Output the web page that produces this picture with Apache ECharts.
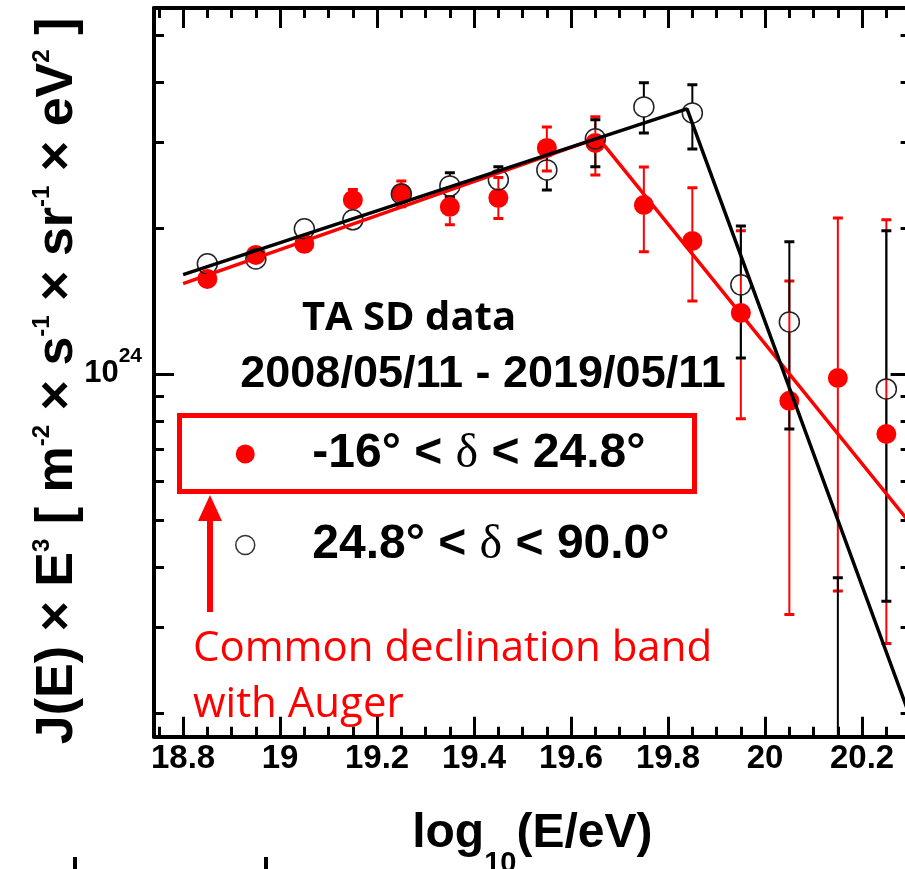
<!DOCTYPE html>
<html>
<head>
<meta charset="utf-8">
<script src="https://cdn.jsdelivr.net/npm/echarts@6/dist/echarts.min.js"></script>
<style>
  html, body { margin: 0; padding: 0; background: #fff; }
  #chart { width: 905px; height: 869px; }
</style>
</head>
<body>
<div id="chart"></div>
<script>
// Energy bin centres, log10(E/eV)
const energyBins = [18.85, 18.95, 19.05, 19.15, 19.25, 19.35, 19.45, 19.55, 19.65, 19.75, 19.85, 19.95, 20.05, 20.15, 20.25];

// J(E) x E^3 in units of 1e24 m^-2 s^-1 sr^-1 eV^2
// -16 deg < dec < 24.8 deg
const southFlux    = [1.570, 1.759, 1.854, 2.284, 2.361, 2.210, 2.306, 2.924, 2.994, 2.230, 1.880, 1.336, 0.880, 0.981, 0.752];
const southErrLow  = [1.530, 1.720, 1.810, 2.180, 2.210, 2.030, 2.090, 2.620, 2.570, 1.785, 1.414, 0.808, 0.319, 0.357, 0.278];
const southErrHigh = [1.610, 1.800, 1.900, 2.400, 2.500, 2.320, 2.540, 3.230, 3.390, 2.670, 2.419, 1.972, 1.555, 2.097, 2.078];
// 24.8 deg < dec < 90 deg (no measured flux in the 20.15 bin, upper bound only)
const northFlux    = [1.686, 1.726, 1.991, 2.078, 2.350, 2.441, 2.512, 2.634, 3.052, 3.552, 3.452, 1.526, 1.280, null, 0.931];
const northErrLow  = [1.650, 1.690, 1.950, 2.030, 2.300, 2.317, 2.328, 2.395, 2.672, 3.139, 2.910, 1.079, 0.770, null, 0.340];
const northErrHigh = [1.720, 1.760, 2.030, 2.120, 2.400, 2.597, 2.672, 2.897, 3.340, 3.981, 3.944, 2.019, 1.872, 0.380, 1.972];

// Broken power-law fits (start, break, end)
const southFitE = [18.8, 19.656, 20.3];
const southFitJ = [1.535, 3.066, 0.491];
const northFitE = [18.8, 19.839, 20.3];
const northFitJ = [1.602, 3.518, 0.195];

const FLUX_UNIT = 1e24;

// Axis ticks
const xMajorTicks = [18.8, 19, 19.2, 19.4, 19.6, 19.8, 20, 20.2];
const xMinorTicks = [18.75, 18.85, 18.9, 18.95, 19.05, 19.1, 19.15, 19.25, 19.3, 19.35, 19.45, 19.5, 19.55,
                     19.65, 19.7, 19.75, 19.85, 19.9, 19.95, 20.05, 20.1, 20.15, 20.25];
const yMajorTicks = [1e24];
const yMinorTicks = [2e23, 3e23, 4e23, 5e23, 6e23, 7e23, 8e23, 9e23, 2e24, 3e24, 4e24, 5e24];

const X_MIN = 18.74, X_MAX = 20.3;
const Y_MIN = 1.786e23, Y_MAX = 5.68e24;

const SOUTH = '-16° < δ < 24.8°';
const NORTH = '24.8° < δ < 90.0°';
const RED = '#ff0000';
const BLACK = '#000000';
const FONT = 'Liberation Sans, Arial, sans-serif';
const MARKER_SIZE = 20;

function points(flux) {
  const out = [];
  energyBins.forEach((e, i) => { if (flux[i] != null) out.push([e, flux[i] * FLUX_UNIT]); });
  return out;
}
// [x, low, high, centre, hasLow, hasCentre]; a missing lower bound runs down past the frame
function errorBars(flux, lo, hi) {
  return energyBins.map((e, i) => [
    e,
    lo[i] != null ? lo[i] * FLUX_UNIT : Y_MIN / 10,
    hi[i] * FLUX_UNIT,
    flux[i] != null ? flux[i] * FLUX_UNIT : hi[i] * FLUX_UNIT,
    lo[i] != null ? 1 : 0,
    flux[i] != null ? 1 : 0
  ]);
}
function fitLine(es, js) {
  return es.map((e, i) => [e, js[i] * FLUX_UNIT]);
}

// Error bars stop at the rim of the marker
function errorBarRenderer(color) {
  const R = MARKER_SIZE / 2;
  return function (params, api) {
    const x = api.value(0);
    const top = api.coord([x, api.value(2)]);
    const bot = api.coord([x, api.value(1)]);
    const hasCentre = api.value(5) === 1;
    const c = hasCentre ? api.coord([x, api.value(3)]) : null;
    const children = [];
    const seg = (y1, y2) => children.push({ type: 'line', shape: { x1: top[0], y1, x2: top[0], y2 }, style: { stroke: color, lineWidth: 2 } });
    const cap = (y) => children.push({ type: 'line', shape: { x1: top[0] - 5, y1: y, x2: top[0] + 5, y2: y }, style: { stroke: color, lineWidth: 3 } });
    if (hasCentre) {
      if (top[1] < c[1] - R) { seg(top[1], c[1] - R); cap(top[1]); }
      if (bot[1] > c[1] + R) { seg(c[1] + R, bot[1]); if (api.value(4) === 1) cap(bot[1]); }
    } else {
      seg(top[1], bot[1]);
      cap(top[1]);
      if (api.value(4) === 1) cap(bot[1]);
    }
    return { type: 'group', children };
  };
}

const frameLine = { show: true, onZero: false, lineStyle: { color: BLACK, width: 4 } };
const noLine = { show: false, onZero: false };

function xAxisDef(position, ticks, len, withLine, labels) {
  const axis = {
    type: 'value', position, min: X_MIN, max: X_MAX, gridIndex: 0,
    axisLine: withLine ? frameLine : noLine,
    splitLine: { show: false },
    axisTick: { show: true, inside: true, length: len, customValues: ticks, lineStyle: { color: BLACK, width: 3 } },
    axisLabel: { show: false }
  };
  if (labels) {
    axis.axisLabel = {
      show: true, customValues: xMajorTicks, margin: 6,
      color: BLACK, fontSize: 33, fontWeight: 'bold', fontFamily: FONT,
      formatter: v => String(+Number(v).toFixed(2))
    };
    axis.name = 'log{sub|10}(E/eV)';
    axis.nameLocation = 'middle';
    axis.nameGap = 73;
    axis.nameMoveOverlap = false;
    axis.nameTextStyle = {
      color: BLACK, fontSize: 48, fontWeight: 'bold', fontFamily: FONT, lineHeight: 48,
      rich: { sub: { fontSize: 29, fontWeight: 'bold', fontFamily: FONT, color: BLACK, lineHeight: 29, padding: [60, 0, 0, 0], verticalAlign: 'middle' } }
    };
  }
  return axis;
}

function yAxisDef(position, ticks, len, withLine, labels) {
  const axis = {
    type: 'log', logBase: 10, position, min: Y_MIN, max: Y_MAX, gridIndex: 0,
    axisLine: withLine ? frameLine : noLine,
    splitLine: { show: false },
    minorTick: { show: false },
    axisTick: { show: true, inside: true, length: len, customValues: ticks, lineStyle: { color: BLACK, width: 3 } },
    axisLabel: { show: false }
  };
  if (labels) {
    axis.axisLabel = {
      show: true, customValues: yMajorTicks, margin: 12,
      formatter: v => '{a|10}{b|' + Math.round(Math.log10(v)) + '}',
      rich: {
        a: { fontSize: 31, fontWeight: 'bold', fontFamily: FONT, color: BLACK, lineHeight: 31 },
        b: { fontSize: 21, fontWeight: 'bold', fontFamily: FONT, color: BLACK, lineHeight: 21, padding: [0, 0, 36, 0], verticalAlign: 'middle' }
      }
    };
    axis.name = 'J(E) × E{sup|3} [ m{sup|-2} × s{sup|-1} × sr{sup|-1} × eV{sup|2} ]';
    axis.nameLocation = 'middle';
    axis.nameRotate = 90;
    axis.nameGap = 70;
    axis.nameMoveOverlap = false;
    axis.nameTextStyle = {
      color: BLACK, fontSize: 52, fontWeight: 'bold', fontFamily: FONT, lineHeight: 52, padding: [0, 17, 0, 0],
      rich: { sup: { fontSize: 24, fontWeight: 'bold', fontFamily: FONT, color: BLACK, lineHeight: 24, padding: [0, 0, 32, 0], verticalAlign: 'middle' } }
    };
  }
  return axis;
}

const chart = echarts.init(document.getElementById('chart'), null, { renderer: 'canvas' });

chart.setOption({
  animation: false,
  backgroundColor: '#ffffff',
  grid: { left: 154, top: 8, width: 756.6, height: 728.8, containLabel: false, outerBoundsMode: 'none' },
  xAxis: [
    xAxisDef('bottom', xMinorTicks, 10, true, true),
    xAxisDef('bottom', xMajorTicks, 20, false, false),
    xAxisDef('top', xMinorTicks, 10, true, false),
    xAxisDef('top', xMajorTicks, 20, false, false)
  ],
  yAxis: [
    yAxisDef('left', yMinorTicks, 10, true, true),
    yAxisDef('left', yMajorTicks, 20, false, false),
    yAxisDef('right', yMinorTicks, 10, true, false),
    yAxisDef('right', yMajorTicks, 20, false, false)
  ],
  legend: {
    orient: 'vertical', left: 235, top: 430, padding: 0,
    itemWidth: 124, itemHeight: 19, itemGap: 43,
    selectedMode: false,
    data: [
      { name: SOUTH, icon: 'circle', itemStyle: { color: RED } },
      { name: NORTH, icon: 'circle', itemStyle: { color: 'rgba(0,0,0,0)', borderColor: '#333', borderWidth: 1.5 } }
    ],
    formatter: n => n.replace('δ', '{d|δ}'),
    textStyle: {
      color: BLACK, fontSize: 48, fontWeight: 'bold', fontFamily: FONT, lineHeight: 46,
      rich: { d: { fontSize: 48, fontWeight: 'normal', fontFamily: 'Liberation Serif, serif', color: BLACK, lineHeight: 46 } }
    }
  },
  series: [
    {
      name: 'south-errors', type: 'custom', xAxisIndex: 0, yAxisIndex: 0, clip: true,
      renderItem: errorBarRenderer(RED), data: errorBars(southFlux, southErrLow, southErrHigh),
      encode: { x: 0, y: [1, 2] }, silent: true
    },
    {
      name: SOUTH, type: 'scatter', xAxisIndex: 0, yAxisIndex: 0,
      symbol: 'circle', symbolSize: MARKER_SIZE, itemStyle: { color: RED, opacity: 1 },
      data: points(southFlux)
    },
    {
      name: 'north-errors', type: 'custom', xAxisIndex: 0, yAxisIndex: 0, clip: true,
      renderItem: errorBarRenderer(BLACK), data: errorBars(northFlux, northErrLow, northErrHigh),
      encode: { x: 0, y: [1, 2] }, silent: true
    },
    {
      name: NORTH, type: 'scatter', xAxisIndex: 0, yAxisIndex: 0,
      symbol: 'circle', symbolSize: MARKER_SIZE,
      itemStyle: { color: 'rgba(0,0,0,0)', borderColor: '#222', borderWidth: 1.5, opacity: 1 },
      data: points(northFlux)
    },
    {
      name: 'south-fit', type: 'line', xAxisIndex: 0, yAxisIndex: 0,
      showSymbol: false, symbol: 'none', clip: true,
      lineStyle: { color: RED, width: 3.5 }, data: fitLine(southFitE, southFitJ)
    },
    {
      name: 'north-fit', type: 'line', xAxisIndex: 0, yAxisIndex: 0,
      showSymbol: false, symbol: 'none', clip: true,
      lineStyle: { color: BLACK, width: 3.5 }, data: fitLine(northFitE, northFitJ)
    }
  ],
  graphic: [
    {
      type: 'text', x: 409, y: 319, silent: true,
      style: { text: 'TA SD data', fill: BLACK, font: 'bold 40px "Open Sans", sans-serif', align: 'center', verticalAlign: 'middle', textAlign: 'center', textVerticalAlign: 'middle' }
    },
    {
      type: 'text', x: 483, y: 375, silent: true,
      style: { text: '2008/05/11 - 2019/05/11', fill: BLACK, font: 'bold 45px "Liberation Sans", Arial, sans-serif', align: 'center', verticalAlign: 'middle', textAlign: 'center', textVerticalAlign: 'middle' }
    },
    {
      type: 'rect', silent: true,
      shape: { x: 179.5, y: 415.5, width: 515, height: 76 },
      style: { fill: 'none', stroke: RED, lineWidth: 5 }
    },
    {
      type: 'rect', silent: true,
      shape: { x: 207, y: 515, width: 6, height: 97 },
      style: { fill: RED }
    },
    {
      type: 'polygon', silent: true,
      shape: { points: [[210, 495], [198, 521], [222, 521]] },
      style: { fill: RED }
    },
    {
      type: 'text', x: 193, y: 649, silent: true,
      style: { text: 'Common declination band', fill: RED, font: '42px "Open Sans", sans-serif', align: 'left', verticalAlign: 'middle', textAlign: 'left', textVerticalAlign: 'middle' }
    },
    {
      type: 'text', x: 193, y: 705, silent: true,
      style: { text: 'with Auger', fill: RED, font: '42px "Open Sans", sans-serif', align: 'left', verticalAlign: 'middle', textAlign: 'left', textVerticalAlign: 'middle' }
    },
    { type: 'rect', silent: true, shape: { x: 73, y: 857, width: 4, height: 12 }, style: { fill: BLACK } },
    { type: 'rect', silent: true, shape: { x: 264, y: 857, width: 4, height: 12 }, style: { fill: BLACK } }
  ]
});
</script>
</body>
</html>
